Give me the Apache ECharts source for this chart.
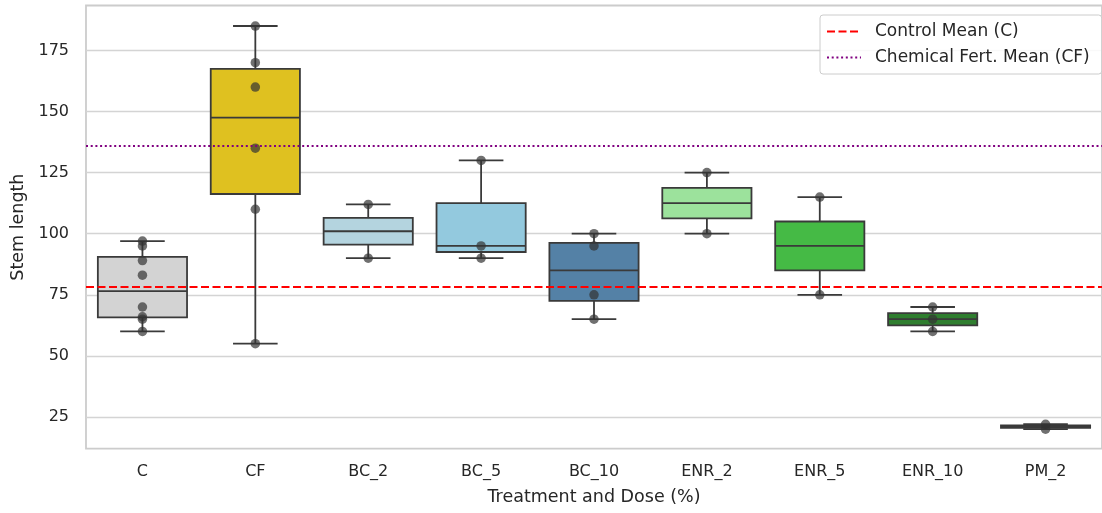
<!DOCTYPE html>
<html>
<head>
<meta charset="utf-8">
<script src="https://cdn.jsdelivr.net/npm/echarts@6/dist/echarts.min.js"></script>
<style>
  html, body { margin: 0; padding: 0; background: #ffffff; }
  #chart { width: 1102px; height: 513px; }
</style>
</head>
<body>
<div id="chart"></div>
<script>
// Stem length measurements per treatment / dose
const categories = ['C', 'CF', 'BC_2', 'BC_5', 'BC_10', 'ENR_2', 'ENR_5', 'ENR_10', 'PM_2'];
const stemC     = [97, 95, 89, 83, 70, 66, 65, 60];
const stemCF    = [185, 170, 160, 135, 110, 55];
const stemBC2   = [112, 90];
const stemBC5   = [130, 95, 90];
const stemBC10  = [100, 95, 75, 65];
const stemENR2  = [125, 100];
const stemENR5  = [115, 75];
const stemENR10 = [70, 65, 60];
const stemPM2   = [22, 20];
const yTicks = [25, 50, 75, 100, 125, 150, 175];

const groups = [stemC, stemCF, stemBC2, stemBC5, stemBC10, stemENR2, stemENR5, stemENR10, stemPM2];
const boxColors = ['#d3d3d3', '#dfc120', '#b4d4df', '#93c9de', '#5481a6',
                   '#9ce29c', '#45ba45', '#2f7e2f', '#3a3a3a'];
const edgeColor = '#3a3a3a';
const textColor = '#262626';
const fontFamily = 'DejaVu Sans, sans-serif';

// Linear-interpolated quantile on a sorted array
function quantile(sorted, p) {
  const pos = (sorted.length - 1) * p;
  const lo = Math.floor(pos), hi = Math.ceil(pos);
  return sorted[lo] + (sorted[hi] - sorted[lo]) * (pos - lo);
}
function mean(a) { return a.reduce((s, v) => s + v, 0) / a.length; }

// Box statistics: whiskers reach the furthest datum within 1.5 IQR
const boxData = groups.map((vals, i) => {
  const s = vals.slice().sort((a, b) => a - b);
  const q1 = quantile(s, 0.25), med = quantile(s, 0.5), q3 = quantile(s, 0.75);
  const iqr = q3 - q1;
  const low = Math.min(...s.filter(v => v >= q1 - 1.5 * iqr));
  const high = Math.max(...s.filter(v => v <= q3 + 1.5 * iqr));
  return { value: [i, low, q1, med, q3, high], itemStyle: { color: boxColors[i] } };
});

const pointData = [];
groups.forEach((vals, i) => vals.forEach(v => pointData.push([i, v])));

const meanC = mean(stemC);
const meanCF = mean(stemCF);

function renderBox(params, api) {
  const idx = api.value(0);
  const band = api.size([1, 0])[0];
  const bw = band * 0.79;
  const cw = bw / 2;
  const cx = api.coord([idx, api.value(3)])[0];
  const yLow = api.coord([idx, api.value(1)])[1];
  const yQ1 = api.coord([idx, api.value(2)])[1];
  const yMed = api.coord([idx, api.value(3)])[1];
  const yQ3 = api.coord([idx, api.value(4)])[1];
  const yHigh = api.coord([idx, api.value(5)])[1];
  const stroke = { stroke: edgeColor, lineWidth: 1.8 };
  return {
    type: 'group',
    children: [
      { type: 'line', shape: { x1: cx, y1: yQ3, x2: cx, y2: yHigh }, style: stroke },
      { type: 'line', shape: { x1: cx, y1: yQ1, x2: cx, y2: yLow }, style: stroke },
      { type: 'line', shape: { x1: cx - cw / 2, y1: yHigh, x2: cx + cw / 2, y2: yHigh }, style: stroke },
      { type: 'line', shape: { x1: cx - cw / 2, y1: yLow, x2: cx + cw / 2, y2: yLow }, style: stroke },
      { type: 'rect', shape: { x: cx - bw / 2, y: yQ3, width: bw, height: yQ1 - yQ3 },
        style: { fill: boxColors[idx], stroke: edgeColor, lineWidth: 1.8 } },
      { type: 'line', shape: { x1: cx - bw / 2, y1: yMed, x2: cx + bw / 2, y2: yMed }, style: stroke }
    ]
  };
}

const chart = echarts.init(document.getElementById('chart'), null, { renderer: 'canvas' });
chart.setOption({
  animation: false,
  backgroundColor: '#ffffff',
  textStyle: { fontFamily: fontFamily },
  grid: {
    left: 86, top: 5.5, right: -8, bottom: 64.3,
    show: true, borderColor: '#cccccc', borderWidth: 1.8, backgroundColor: '#ffffff',
    containLabel: false
  },
  legend: {
    orient: 'vertical', left: 820, top: 15,
    data: ['Control Mean (C)', 'Chemical Fert. Mean (CF)'],
    itemWidth: 34, itemHeight: 14, itemGap: 9,
    padding: [8, 12, 8, 6],
    itemStyle: { opacity: 0 },
    borderColor: '#cccccc', borderWidth: 1, borderRadius: 3,
    backgroundColor: 'rgba(255,255,255,0.85)',
    textStyle: { fontSize: 17, color: textColor, fontFamily: fontFamily, padding: [0, 0, 0, 9] }
  },
  xAxis: {
    type: 'category', data: categories,
    name: 'Treatment and Dose (%)', nameLocation: 'middle', nameGap: 40,
    nameTextStyle: { fontSize: 17.5, color: textColor, fontFamily: fontFamily },
    axisLine: { show: false }, axisTick: { show: false }, splitLine: { show: false },
    axisLabel: { fontSize: 16, color: textColor, margin: 15.5, fontFamily: fontFamily }
  },
  yAxis: {
    type: 'value', min: 12, max: 193.4,
    name: 'Stem length', nameLocation: 'middle', nameGap: 56, nameRotate: 90,
    nameTextStyle: { fontSize: 17.5, color: textColor, fontFamily: fontFamily },
    axisLine: { show: false },
    axisTick: { show: false, customValues: yTicks },
    axisLabel: { fontSize: 16, color: textColor, margin: 17, fontFamily: fontFamily, customValues: yTicks },
    splitLine: { show: true, lineStyle: { color: '#d4d4d4', width: 1.3 } }
  },
  series: [
    {
      type: 'custom', name: 'boxes', renderItem: renderBox,
      encode: { x: 0, y: [1, 2, 3, 4, 5] },
      data: boxData, z: 2
    },
    {
      type: 'scatter', name: 'points', data: pointData,
      symbolSize: 9.5, z: 3,
      itemStyle: { color: '#333333', opacity: 0.7 }
    },
    {
      type: 'line', name: 'Control Mean (C)', data: [], symbol: 'none', showSymbol: false, z: 4,
      lineStyle: { color: '#ff0000', width: 2, type: [8, 3.5] },
      itemStyle: { color: '#ff0000' },
      markLine: {
        silent: true, symbol: 'none', label: { show: false },
        lineStyle: { color: '#ff0000', width: 2, type: [8, 3.5] },
        data: [{ yAxis: meanC }]
      }
    },
    {
      type: 'line', name: 'Chemical Fert. Mean (CF)', data: [], symbol: 'none', showSymbol: false, z: 4,
      lineStyle: { color: '#800080', width: 2, type: [2, 2.7] },
      itemStyle: { color: '#800080' },
      markLine: {
        silent: true, symbol: 'none', label: { show: false },
        lineStyle: { color: '#800080', width: 2, type: [2, 2.7] },
        data: [{ yAxis: meanCF }]
      }
    }
  ]
});
</script>
</body>
</html>
